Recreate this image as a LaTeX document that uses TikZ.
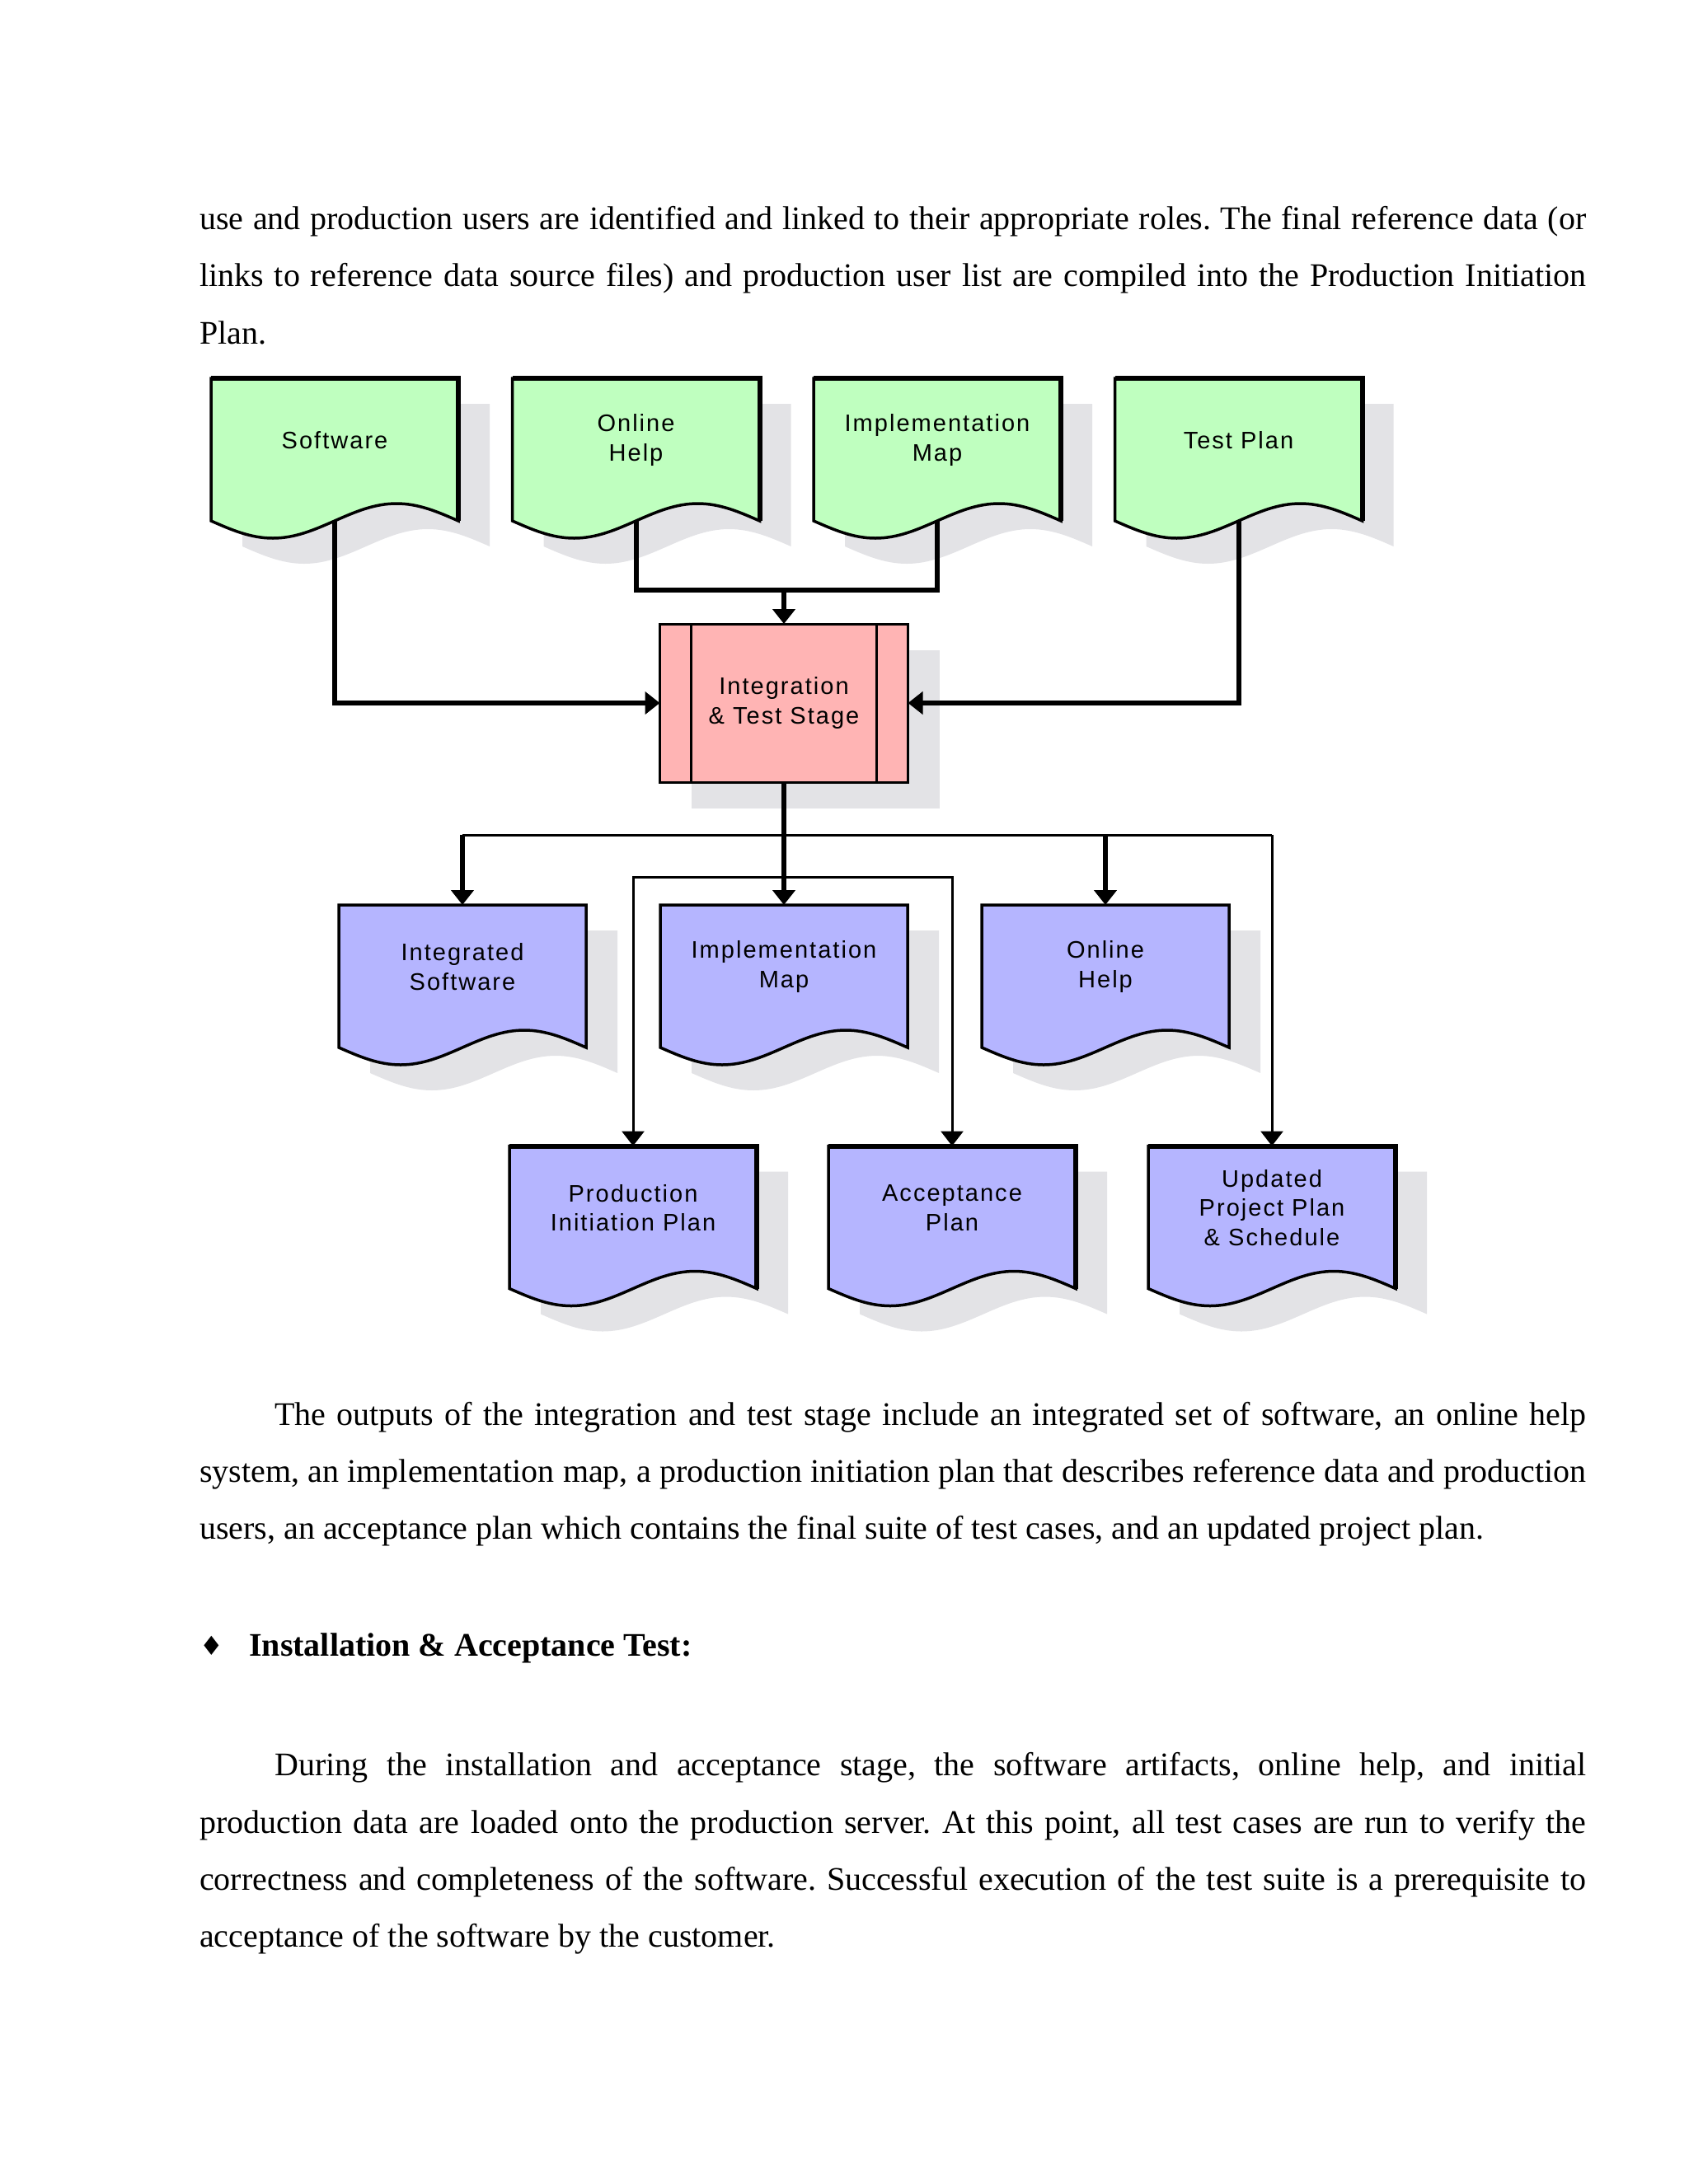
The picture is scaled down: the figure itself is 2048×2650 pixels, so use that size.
\documentclass[tikz,border=0pt]{standalone}
\usepackage{fontspec}
\setmainfont{Liberation Serif}
\newfontfamily\boxfont[LetterSpace=7]{Liberation Sans}
\newfontfamily\bulletfont{DejaVu Sans}
\usetikzlibrary{arrows.meta,backgrounds}
\frenchspacing
\definecolor{docGreen}{RGB}{191,255,191}
\definecolor{docBlue}{RGB}{181,181,255}
\definecolor{stagePink}{RGB}{255,180,180}
\definecolor{shadowGray}{RGB}{227,227,230}
% outline of a document node, shifted by #2
\newcommand{\docPath}[2]{([shift={#2}]#1.north west) -- ([shift={#2}]#1.south west) sin ++(75,21) cos ++(75,-21) sin ++(75,-21) cos ++(75,21) -- ([shift={#2}]#1.north east) -- cycle}
\newcommand{\docShape}[2]{\fill[shadowGray] \docPath{#1}{(38,31)}; \filldraw[fill=#2, line width=3.5pt] \docPath{#1}{(0,0)};}
\newcommand{\docEdge}[1]{\draw[line width=6pt] (#1.south east) -- (#1.north east) -- (#1.north west);}
\begin{document}
\begin{tikzpicture}[x=1pt, y=-1pt, >={Triangle[width=27pt,length=18pt]},
    docStyle/.style={rectangle, minimum width=300pt, minimum height=173pt, inner sep=0pt, outer sep=0pt},
    labelStyle/.style={align=center, inner sep=0pt, yshift=11.5pt, font={\boxfont\fontsize{29}{35.7}\selectfont}},
    stageStyle/.style={rectangle, draw, line width=3pt, fill=stagePink, minimum width=301pt, minimum height=192pt, inner sep=0pt, outer sep=0pt, align=center, font={\boxfont\fontsize{29}{35.7}\selectfont}},
    thickLine/.style={line width=6pt},
    thinLine/.style={line width=3pt},
    bodyText/.style={anchor=base west, inner sep=0pt, font=\fontsize{40}{50}\selectfont}]
    \useasboundingbox (0,0) rectangle (2048,2650);

    \node[bodyText] (p1_l1) at (242,278) {\makebox[1682pt][s]{use and production users are identified and linked to their appropriate roles. The final reference data (or}};
    \node[bodyText] (p1_l2) at (242,347) {\makebox[1682pt][s]{links to reference data source files) and production user list are compiled into the Production Initiation}};
    \node[bodyText] (p1_l3) at (242,417) {Plan.};

    \node[docStyle, label={[labelStyle]center:Software}] (in_sw) at (406,545.5) {};
    \node[docStyle, label={[labelStyle]center:Online\\Help}] (in_help) at (771.5,545.5) {};
    \node[docStyle, label={[labelStyle]center:Implementation\\Map}] (in_map) at (1137,545.5) {};
    \node[docStyle, label={[labelStyle]center:Test Plan}] (in_test) at (1502.5,545.5) {};

    \node[stageStyle] (stage) at (951,853) {Integration\\\& Test Stage};
    \draw[line width=3pt] ([xshift=38pt]stage.north west) -- ([xshift=38pt]stage.south west);
    \draw[line width=3pt] ([xshift=-38pt]stage.north east) -- ([xshift=-38pt]stage.south east);

    \node[docStyle, label={[labelStyle]center:Integrated\\Software}] (out_sw) at (561,1184.5) {};
    \node[docStyle, label={[labelStyle]center:Implementation\\Map}] (out_map) at (951,1184.5) {};
    \node[docStyle, label={[labelStyle]center:Online\\Help}] (out_help) at (1341,1184.5) {};

    \node[docStyle, label={[labelStyle]center:Production\\Initiation Plan}] (out_pip) at (768,1477) {};
    \node[docStyle, label={[labelStyle]center:Acceptance\\Plan}] (out_acc) at (1155,1477) {};
    \node[docStyle, label={[labelStyle]center:Updated\\Project Plan\\\& Schedule}] (out_upd) at (1543,1477) {};

    \begin{scope}[on background layer]
        \docShape{in_sw}{docGreen}
        \docShape{in_help}{docGreen}
        \docShape{in_map}{docGreen}
        \docShape{in_test}{docGreen}
        \docShape{out_sw}{docBlue}
        \docShape{out_map}{docBlue}
        \docShape{out_help}{docBlue}
        \docShape{out_pip}{docBlue}
        \docShape{out_acc}{docBlue}
        \docShape{out_upd}{docBlue}
        \docEdge{in_sw} \docEdge{in_help} \docEdge{in_map} \docEdge{in_test}
        \docEdge{out_pip} \docEdge{out_acc} \docEdge{out_upd}
        \fill[shadowGray] ([shift={(38,32)}]stage.north west) rectangle ([shift={(38,32)}]stage.south east);
    \end{scope}

    \coordinate (top_join) at (951,716);
    \coordinate (out_join) at (951,1013);
    \coordinate (loop_join) at (951,1064);

    \draw[thickLine,->] (in_sw.south) |- (stage.west);
    \draw[thickLine,->] (in_test.south) |- (stage.east);
    \draw[thickLine] (in_help.south) |- (top_join) -| (in_map.south);
    \draw[thickLine,->] (top_join) -- (stage.north);

    \draw[thickLine,->] (stage.south) -- (out_map.north);
    \draw[thinLine] (out_sw.north |- out_join) -- (out_upd.north |- out_join);
    \draw[thickLine,->] (out_sw.north |- out_join) -- (out_sw.north);
    \draw[thickLine,->] (out_help.north |- out_join) -- (out_help.north);
    \draw[thinLine,->] (out_upd.north |- out_join) -- (out_upd.north);
    \draw[thinLine,<->] (out_pip.north) |- (loop_join) -| (out_acc.north);

    \node[bodyText] (p2_l1) at (333,1729) {\makebox[1591pt][s]{The outputs of the integration and test stage include an integrated set of software, an online help}};
    \node[bodyText] (p2_l2) at (242,1798) {\makebox[1682pt][s]{system, an implementation map, a production initiation plan that describes reference data and production}};
    \node[bodyText] (p2_l3) at (242,1867) {users, an acceptance plan which contains the final suite of test cases, and an updated project plan.};

    \node[anchor=base, inner sep=0pt, font={\bulletfont\fontsize{32}{32}\selectfont}] (bullet) at (257,2008) {♦};
    \node[bodyText, font=\fontsize{40}{50}\selectfont\bfseries] (head) at (302,2009) {Installation \& Acceptance Test:};

    \node[bodyText] (p3_l1) at (333,2154) {\makebox[1591pt][s]{During the installation and acceptance stage, the software artifacts, online help, and initial}};
    \node[bodyText] (p3_l2) at (242,2224) {\makebox[1682pt][s]{production data are loaded onto the production server. At this point, all test cases are run to verify the}};
    \node[bodyText] (p3_l3) at (242,2293) {\makebox[1682pt][s]{correctness and completeness of the software. Successful execution of the test suite is a prerequisite to}};
    \node[bodyText] (p3_l4) at (242,2362) {acceptance of the software by the customer.};
\end{tikzpicture}
\end{document}
